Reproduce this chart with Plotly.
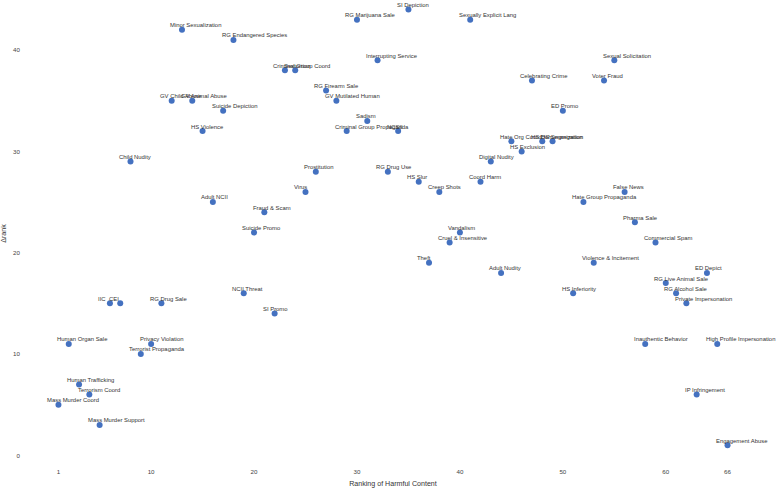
import plotly.graph_objects as go

labels = [
    "Mass Murder Coord", "Human Organ Sale", "Human Trafficking", "Terrorism Coord",
    "Mass Murder Support", "IIC", "CEI", "Child Nudity", "Terrorist Propaganda",
    "Privacy Violation", "RG Drug Sale", "GV Child Abuse", "Minor Sexualization",
    "GV Animal Abuse", "HS Violence", "Adult NCII", "Suicide Depiction",
    "RG Endangered Species", "NCII Threat", "Suicide Promo", "Fraud & Scam",
    "SI Promo", "Criminal Group Coord", "Sextortion", "Virus", "Prostitution",
    "RG Firearm Sale", "GV Mutilated Human", "Criminal Group Propaganda",
    "RG Marijuana Sale", "Sadism", "Interrupting Service", "RG Drug Use", "NCSII",
    "SI Depiction", "HS Slur", "Theft", "Creep Shots", "Cruel & Insensitive",
    "Vandalism", "Sexually Explicit Lang", "Coord Harm", "Digital Nudity",
    "Adult Nudity", "Hate Org Coord", "HS Exclusion", "Celebrating Crime",
    "HS Dehumanization", "HS Segregation", "ED Promo", "HS Inferiority",
    "Hate Group Propaganda", "Violence & Incitement", "Voter Fraud",
    "Sexual Solicitation", "False News", "Pharma Sale", "Inauthentic Behavior",
    "Commercial Spam", "RG Live Animal Sale", "RG Alcohol Sale",
    "Private Impersonation", "IP Infringement", "ED Depict",
    "High Profile Impersonation", "Engagement Abuse",
]
ranks = list(range(1, 67))
delta_rank = [
    5, 11, 7, 6, 3, 15, 15, 29, 10, 11, 15, 35, 42, 35, 32, 25, 34, 41, 16, 22,
    24, 14, 38, 38, 26, 28, 36, 35, 32, 43, 33, 39, 28, 32, 44, 27, 19, 26, 21, 22,
    43, 27, 29, 18, 31, 30, 37, 31, 31, 34, 16, 25, 19, 37, 39, 26, 23, 11, 21, 17,
    16, 15, 6, 18, 11, 1,
]
x_ticks = [1, 10, 20, 30, 40, 50, 60, 66]
y_ticks = [0, 10, 20, 30, 40]

FONT = "Liberation Sans, Arial, sans-serif"

fig = go.Figure()
fig.add_trace(go.Scatter(
    x=ranks, y=delta_rank, mode="markers",
    marker=dict(color="#4471C0", size=6, line=dict(width=0)),
    hoverinfo="text", text=labels, showlegend=False,
))

for lab, xr, yd in zip(labels, ranks, delta_rank):
    fig.add_annotation(
        x=xr, y=yd, text=lab, showarrow=False,
        xanchor="left", yanchor="middle", xshift=-12.6, yshift=4.6,
        borderpad=0, font=dict(family=FONT, size=5.9, color="#333333"),
    )

fig.update_layout(
    width=777, height=490,
    margin=dict(l=25, r=16, t=0, b=23),
    paper_bgcolor="white", plot_bgcolor="white",
    font=dict(family=FONT, color="#333333"),
    xaxis=dict(
        range=[-2.25, 69.25], tickvals=x_ticks, ticktext=[str(v) for v in x_ticks],
        showgrid=False, zeroline=False, showline=False, ticks="",
        tickfont=dict(size=6.2, color="#444444"), automargin=False,
        title=dict(text="Ranking of Harmful Content", font=dict(size=7.1, color="#333333"), standoff=6),
    ),
    yaxis=dict(
        range=[-1.15, 44.94], tickvals=y_ticks, ticktext=[str(v) for v in y_ticks],
        showgrid=False, zeroline=False, showline=False, ticks="",
        tickfont=dict(size=6.2, color="#444444"), automargin=False,
        ticklabelstandoff=4,
        title=dict(text="Δrank", font=dict(size=7.1, color="#333333"), standoff=9),
    ),
)

fig.write_html(
    "out.html",
    config={"displayModeBar": False},
    post_script="document.body.style.margin='0';document.body.style.overflow='hidden';",
)
